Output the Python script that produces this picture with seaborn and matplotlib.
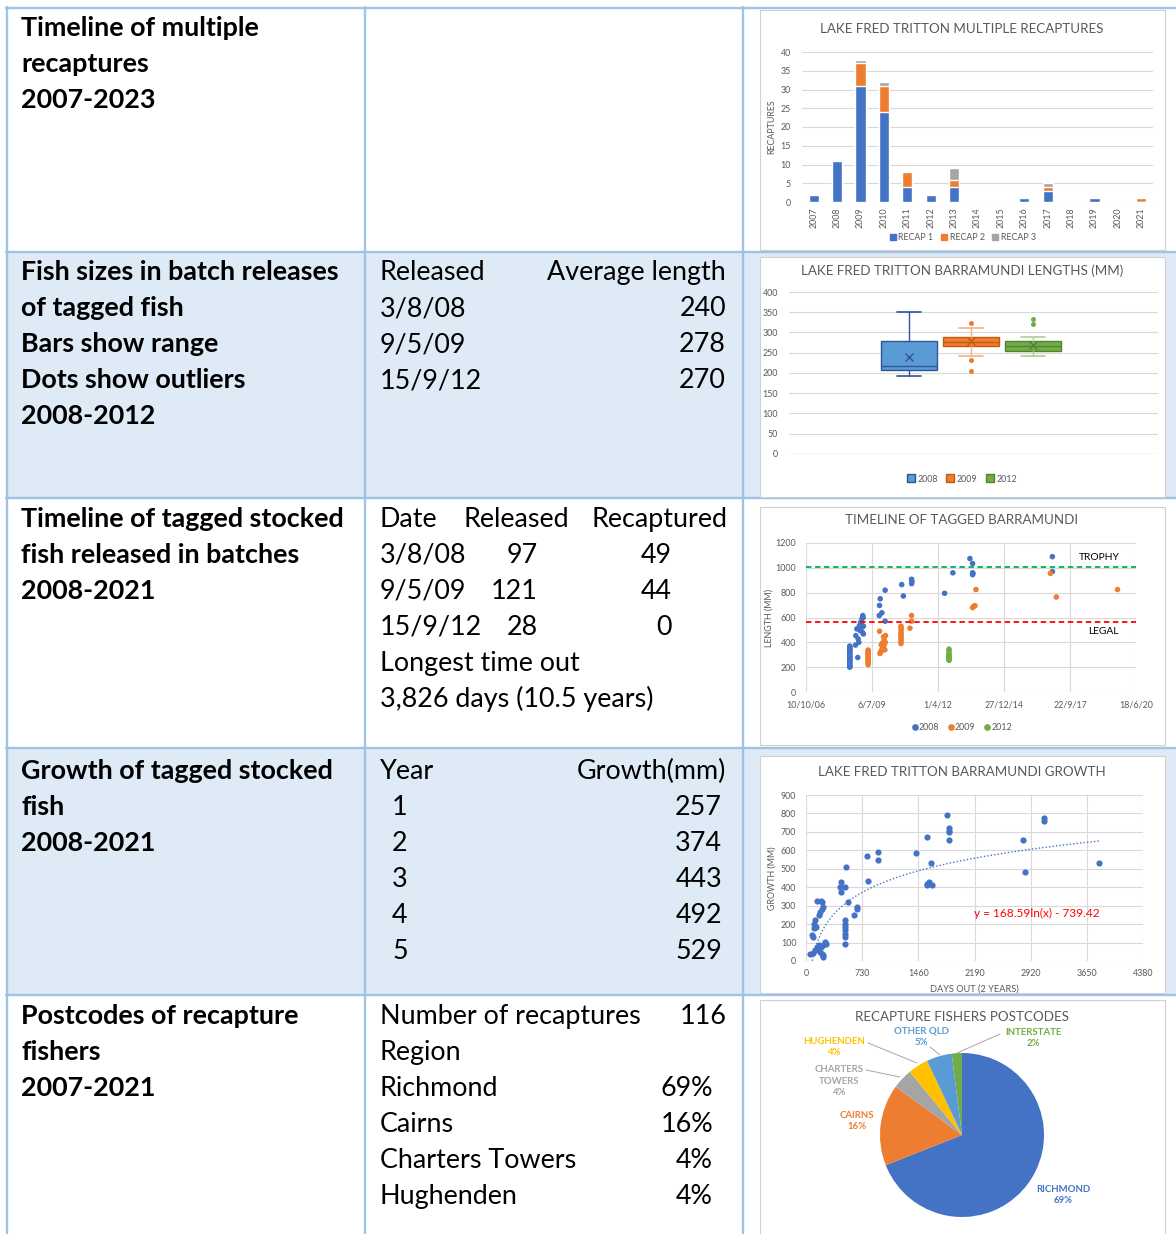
import numpy as np
import pandas as pd
import matplotlib
matplotlib.use('Agg')
import matplotlib.pyplot as plt
import seaborn as sns
from matplotlib.patches import Rectangle
from matplotlib.lines import Line2D

sns.set_theme(style='white')
plt.rcParams['font.family'] = ['Lato', 'DejaVu Sans']

# ---------------- data ----------------
years = ['2007', '2008', '2009', '2010', '2011', '2012', '2013', '2014',
         '2015', '2016', '2017', '2018', '2019', '2020', '2021']
recap1 = [2, 11, 31, 24, 4, 2, 4, 0, 0, 1, 3, 0, 1, 0, 0]
recap2 = [0, 0, 6, 7, 4, 0, 2, 0, 0, 0, 1, 0, 0, 0, 1]
recap3 = [0, 0, 1, 1, 0, 0, 3, 0, 0, 0, 1, 0, 0, 0, 0]

box_years = ['2008', '2009', '2012']
box_low = [192, 243, 243]
box_q1 = [207, 266, 254]
box_median = [218, 276, 267]
box_q3 = [278, 290, 278]
box_high = [350, 311, 290]
box_mean = [240, 278, 270]
box_outliers = [[], [323, 233, 206], [320, 334]]

# timeline: Excel date serials and lengths (mm)
t2008_serial = [39663] * 24 + [39784, 39750, 39755, 39770, 39790, 39810, 39830, 39860, 39870,
                               39820, 39850, 39865, 39845, 39855, 39800, 39840, 39870,
                               40114, 40125, 40199, 40110, 40150, 40199, 40450, 40475,
                               40600, 40600, 40605, 41100, 41225, 41484, 41524, 41524,
                               41524, 41530, 42733, 42733]
t2008_length = [200, 205, 212, 220, 228, 235, 243, 250, 258, 265, 272, 280, 288, 295, 303,
                310, 318, 325, 333, 340, 348, 355, 362, 370,
                278, 378, 454, 508, 427, 535, 562, 616, 467,
                495, 590, 600, 520, 480, 400, 560, 530,
                697, 751, 820, 616, 638, 570, 865, 773,
                908, 873, 890, 795, 960, 1075, 1035, 960,
                945, 955, 1090, 970]
t2009_serial = [39942] * 15 + [40114, 40120, 40130, 40140, 40150, 40160, 40170, 40180, 40190,
                               40200, 40185, 40175, 40205, 40140, 40160, 40195,
                               40440, 40440, 40440, 40440, 40440, 40440, 40440, 40440, 40440,
                               40440, 40575, 40600, 40600, 41524, 41540, 41560, 41575,
                               42703, 42793, 43720]
t2009_length = [220, 230, 240, 250, 258, 266, 275, 283, 290, 298, 306, 314, 322, 330, 338,
                489, 310, 320, 330, 340, 350, 360, 375, 390,
                400, 420, 445, 455, 380, 395, 340,
                390, 405, 420, 435, 450, 465, 480, 500, 515,
                530, 514, 616, 570, 680, 690, 695, 825,
                955, 765, 825]
t2012_serial = [41167] * 10
t2012_length = [255, 262, 270, 278, 285, 292, 300, 310, 330, 345]
timeline_ticks = ['10/10/06', '6/7/09', '1/4/12', '27/12/14', '22/9/17', '18/6/20']
legal_mm = 560
trophy_mm = 1005

# growth
growth_days = [52, 87, 117, 74, 95, 108, 121, 130, 104, 147, 173, 182, 204, 217, 195, 204,
               160, 182, 204, 225, 217, 173, 195, 225, 247, 260, 139,
               442, 455, 455, 507, 520, 512, 512, 512, 512, 512, 512, 512,
               551, 625, 659, 659, 789, 802, 932, 932, 1431, 1570, 1579, 1579, 1605,
               1640, 1622, 1835, 1861, 1861, 1861, 1861, 2815, 2850, 3097, 3097, 3804]
growth_mm = [36, 45, 58, 139, 130, 203, 221, 185, 179, 326, 248, 266, 284, 293, 326, 321,
             67, 49, 40, 31, 24, 85, 76, 85, 103, 94, 76,
             402, 375, 429, 402, 511, 221, 203, 185, 167, 148, 130, 94,
             321, 252, 293, 281, 570, 436, 589, 547, 583, 675, 420, 411, 426,
             411, 529, 791, 719, 704, 697, 657, 657, 480, 777, 759, 534]
trend_a, trend_b = 168.59, -739.42

pie_labels = ['RICHMOND', 'CAIRNS', 'CHARTERS\nTOWERS', 'HUGHENDEN', 'OTHER QLD', 'INTERSTATE']
pie_values = [69, 16, 4, 4, 5, 2]

# ---------------- styling ----------------
C_BLUE = '#4472C4'
C_ORANGE = '#ED7D31'
C_GRAY = '#A5A5A5'
C_YELLOW = '#FFC000'
C_LBLUE = '#5B9BD5'
C_GREEN = '#70AD47'
TXT = '#595959'
GRID = '#D9D9D9'
BORDER = '#9DC3E6'
ROWFILL = '#DEEAF6'
TICK = 6.4
TITLE = 9.6

W, H = 1176, 1234
fig = plt.figure(figsize=(W / 100, H / 100), dpi=100)
bg = fig.add_axes([0, 0, 1, 1])
bg.set_xlim(0, W)
bg.set_ylim(H, 0)
bg.axis('off')


def rect_axes(x0, y0, x1, y1):
    return fig.add_axes([x0 / W, 1 - y1 / H, (x1 - x0) / W, (y1 - y0) / H])


def fig_anchor(x, y):
    return (x / W, 1 - y / H)


# table background
row_edges = [8, 252, 498, 748, 995, 1234]
for i in range(5):
    fc = ROWFILL if i in (1, 3) else 'white'
    bg.add_patch(Rectangle((7, row_edges[i]), W - 7, row_edges[i + 1] - row_edges[i],
                           facecolor=fc, edgecolor='none', zorder=0))
for y in row_edges[:-1]:
    bg.plot([6, W], [y, y], color=BORDER, lw=1.7, zorder=1)
for x in (7, 365, 743):
    bg.plot([x, x], [7, H], color=BORDER, lw=1.7, zorder=1)

# chart frames
frames = [(10, 250), (257, 497), (507, 745), (756, 993), (1000, 1240)]
for y0, y1 in frames:
    bg.add_patch(Rectangle((760, y0), 405, y1 - y0, facecolor='white',
                           edgecolor='#D0D0D0', lw=0.8, zorder=2))

# left column text
FS = 19.4
left_texts = [
    (36, ['Timeline of multiple', 'recaptures', '2007-2023']),
    (280, ['Fish sizes in batch releases', 'of tagged fish', 'Bars show range',
           'Dots show outliers', '2008-2012']),
    (527, ['Timeline of tagged stocked', 'fish released in batches', '2008-2021']),
    (779, ['Growth of tagged stocked', 'fish', '2008-2021']),
    (1024, ['Postcodes of recapture', 'fishers', '2007-2021']),
]
for y0, lines in left_texts:
    for k, s in enumerate(lines):
        bg.text(21, y0 + 36 * k, s, fontsize=FS, fontweight='bold', color='black',
                va='baseline', ha='left', zorder=3)


def mid(x, y, s, ha='left'):
    bg.text(x, y, s, fontsize=FS, color='black', va='baseline', ha=ha, zorder=3)


# row 2 middle
for k, (a, b) in enumerate(zip(['Released', '3/8/08', '9/5/09', '15/9/12'],
                               ['Average length', '240', '278', '270'])):
    mid(380, 280 + 36 * k, a)
    mid(726, 280 + 36 * k, b, 'right')
# row 3 middle
mid(380, 527, 'Date')
mid(463, 527, 'Released')
mid(727, 527, 'Recaptured', 'right')
for k, (a, b, c) in enumerate(zip(['3/8/08', '9/5/09', '15/9/12'], ['97', '121', '28'],
                                  ['49', '44', '0'])):
    mid(380, 563 + 36 * k, a)
    mid(538, 563 + 36 * k, b, 'right')
    mid(672, 563 + 36 * k, c, 'right')
mid(380, 671, 'Longest time out')
mid(380, 707, '3,826 days (10.5 years)')
# row 4 middle
mid(380, 779, 'Year')
mid(726, 779, 'Growth(mm)', 'right')
for k, (a, b) in enumerate(zip(['1', '2', '3', '4', '5'], ['257', '374', '443', '492', '529'])):
    mid(400, 815 + 36 * k, a, 'center')
    mid(722, 815 + 36 * k, b, 'right')
# row 5 middle
mid(380, 1024, 'Number of recaptures')
mid(727, 1024, '116', 'right')
mid(380, 1060, 'Region')
for k, (a, b) in enumerate(zip(['Richmond', 'Cairns', 'Charters Towers', 'Hughenden'],
                               ['69%', '16%', '4%', '4%'])):
    mid(380, 1096 + 36 * k, a)
    mid(713, 1096 + 36 * k, b, 'right')


def style_axes(ax):
    for sp in ax.spines.values():
        sp.set_visible(False)
    ax.set_facecolor('none')
    ax.tick_params(axis='both', length=0, labelsize=TICK, labelcolor=TXT, pad=3)
    ax.set_xlabel('')
    ax.set_ylabel('')
    ax.set_axisbelow(True)


def title(x, y, s):
    bg.text(x, y, s, fontsize=TITLE, color=TXT, ha='center', va='center', zorder=3)


# ---------------- chart 1: stacked bars ----------------
ax1 = rect_axes(802, 52, 1153, 202)
df1 = pd.DataFrame({'year': years, 'r1': recap1, 'r2': recap2, 'r3': recap3})
df1['r12'] = df1['r1'] + df1['r2']
df1['r123'] = df1['r12'] + df1['r3']
for col, c in (('r123', C_GRAY), ('r12', C_ORANGE), ('r1', C_BLUE)):
    sns.barplot(data=df1, x='year', y=col, color=c, width=0.43, saturation=1,
                errorbar=None, ax=ax1, zorder=2)
ax1.set_xlim(-0.5, len(years) - 0.5)
ax1.set_ylim(0, 40)
ax1.set_yticks(range(0, 41, 5))
ax1.yaxis.grid(True, color=GRID, lw=0.8)
style_axes(ax1)
ax1.tick_params(axis='x', rotation=90, pad=4)
ax1.tick_params(axis='y', pad=8)
title(962, 29, 'LAKE FRED TRITTON MULTIPLE RECAPTURES')
bg.text(772, 127, 'RECAPTURES', rotation=90, fontsize=TICK, color=TXT, ha='center', va='center', zorder=3)
h1 = [Line2D([], [], marker='s', ls='none', color=c, markersize=4.5) for c in (C_BLUE, C_ORANGE, C_GRAY)]
ax1.legend(h1, ['RECAP 1', 'RECAP 2', 'RECAP 3'], loc='center', bbox_to_anchor=fig_anchor(963, 238),
           bbox_transform=fig.transFigure, ncol=3, frameon=False, fontsize=TICK, labelcolor=TXT,
           handlelength=0.6, handletextpad=0.3, columnspacing=0.9)

# ---------------- chart 2: box plot ----------------
ax2 = rect_axes(789, 292, 1158, 454)
box_face = [C_LBLUE, C_ORANGE, C_GREEN]
box_edge = ['#2F5597', '#C55A11', '#548235']
box_whisk = ['#2F5597', '#F4B183', '#A9D18E']
box_pos = [-1, 0, 1]
for i in range(3):
    st = dict(label=box_years[i], whislo=box_low[i], q1=box_q1[i], med=box_median[i],
              q3=box_q3[i], whishi=box_high[i], mean=box_mean[i],
              fliers=np.array(box_outliers[i], dtype=float))
    ax2.bxp([st], positions=[box_pos[i]], widths=0.9, capwidths=0.38, patch_artist=True,
            showmeans=True, manage_ticks=False,
            boxprops=dict(facecolor=box_face[i], edgecolor=box_edge[i], lw=1.0),
            medianprops=dict(color=box_edge[i], lw=1.0),
            whiskerprops=dict(color=box_whisk[i], lw=1.0),
            capprops=dict(color=box_whisk[i], lw=1.2),
            meanprops=dict(marker='x', markeredgecolor=box_edge[i], markersize=6, mew=1.0),
            flierprops=dict(marker='o', markerfacecolor=box_face[i], markeredgecolor='none',
                            markersize=3.6))
ax2.set_xlim(-2.94, 3.02)
ax2.set_ylim(0, 400)
ax2.set_yticks(range(0, 401, 50))
ax2.set_xticks([])
ax2.yaxis.grid(True, color=GRID, lw=0.8)
style_axes(ax2)
ax2.axhline(0, color=GRID, lw=1.0)
ax2.tick_params(axis='y', pad=8)
title(962, 271, 'LAKE FRED TRITTON BARRAMUNDI LENGTHS (MM)')
h2 = [Line2D([], [], marker='s', ls='none', markerfacecolor=f, markeredgecolor=e, markersize=6)
      for f, e in zip(box_face, box_edge)]
ax2.legend(h2, box_years, loc='center', bbox_to_anchor=fig_anchor(962, 479),
           bbox_transform=fig.transFigure, ncol=3, frameon=False, fontsize=TICK, labelcolor=TXT,
           handlelength=0.8, handletextpad=0.35, columnspacing=1.0)

# ---------------- chart 3: timeline scatter ----------------
ax3 = rect_axes(806, 543, 1136, 692)
df3 = pd.DataFrame({
    'serial': t2008_serial + t2009_serial + t2012_serial,
    'length': t2008_length + t2009_length + t2012_length,
    'batch': ['2008'] * len(t2008_serial) + ['2009'] * len(t2009_serial) + ['2012'] * len(t2012_serial),
})
sns.scatterplot(data=df3, x='serial', y='length', hue='batch',
                palette={'2008': C_BLUE, '2009': C_ORANGE, '2012': C_GREEN},
                s=16, linewidth=0, ax=ax3, legend=False, zorder=3)
ax3.set_xlim(39000, 44000)
ax3.set_xticks(range(39000, 44001, 1000))
ax3.set_xticklabels(timeline_ticks)
ax3.set_ylim(0, 1200)
ax3.set_yticks(range(0, 1201, 200))
ax3.grid(True, color=GRID, lw=0.8)
style_axes(ax3)
ax3.axhline(trophy_mm, color='#00B050', lw=1.3, ls=(0, (3, 2)), zorder=4)
ax3.axhline(legal_mm, color='#FF0000', lw=1.3, ls=(0, (3, 2)), zorder=4)
ax3.text(43450, 1085, 'TROPHY', fontsize=7.4, color='black', ha='center', va='center')
ax3.text(43510, 485, 'LEGAL', fontsize=7.4, color='black', ha='center', va='center')
ax3.tick_params(axis='y', pad=7)
ax3.tick_params(axis='x', pad=6)
title(962, 520, 'TIMELINE OF TAGGED BARRAMUNDI')
bg.text(769, 618, 'LENGTH (MM)', rotation=90, fontsize=TICK, color=TXT, ha='center', va='center', zorder=3)
h3 = [Line2D([], [], marker='o', ls='none', color=c, markersize=3.8) for c in (C_BLUE, C_ORANGE, C_GREEN)]
ax3.legend(h3, ['2008', '2009', '2012'], loc='center', bbox_to_anchor=fig_anchor(962, 728),
           bbox_transform=fig.transFigure, ncol=3, frameon=False, fontsize=TICK, labelcolor=TXT,
           handlelength=0.5, handletextpad=0.25, columnspacing=1.0)

# ---------------- chart 4: growth scatter ----------------
ax4 = rect_axes(806, 795, 1143, 961)
df4 = pd.DataFrame({'days': growth_days, 'growth': growth_mm})
sns.scatterplot(data=df4, x='days', y='growth', color=C_BLUE, s=20, linewidth=0, ax=ax4, zorder=3)
tx = np.linspace(min(growth_days), max(growth_days), 400)
ty = trend_a * np.log(tx) + trend_b
ax4.plot(tx, ty, color=C_BLUE, lw=1.0, ls=(0, (1, 1.5)), zorder=2)
ax4.set_xlim(0, 4380)
ax4.set_xticks(range(0, 4381, 730))
ax4.set_ylim(0, 900)
ax4.set_yticks(range(0, 901, 100))
ax4.grid(True, color=GRID, lw=0.8)
style_axes(ax4)
ax4.tick_params(axis='y', pad=7)
ax4.tick_params(axis='x', pad=6)
ax4.text(3005, 255, 'y = 168.59ln(x) - 739.42', color='#FF0000', fontsize=8.6, ha='center', va='center')
title(962, 772, 'LAKE FRED TRITTON BARRAMUNDI GROWTH')
bg.text(772, 878, 'GROWTH (MM)', rotation=90, fontsize=TICK, color=TXT, ha='center', va='center', zorder=3)
bg.text(974, 989, 'DAYS OUT (2 YEARS)', fontsize=TICK + 0.3, color=TXT, ha='center', va='center', zorder=3)

# ---------------- chart 5: pie ----------------
ax5 = rect_axes(880, 1053, 1044, 1217)
pie_colors = [C_BLUE, C_ORANGE, C_GRAY, C_YELLOW, C_LBLUE, C_GREEN]
ax5.pie(pie_values, colors=pie_colors, startangle=90, counterclock=False, radius=1,
        wedgeprops=dict(linewidth=0))
ax5.set_xlim(-1, 1)
ax5.set_ylim(-1, 1)
ax5.set_aspect('equal')
ax5.axis('off')
title(962, 1017, 'RECAPTURE FISHERS POSTCODES')
lab_pos = [(1063, 1195), (857, 1121), (839, 1081), (834, 1047), (921, 1037), (1033, 1038)]
for (x, y), lab, v, c in zip(lab_pos, pie_labels, pie_values, pie_colors):
    bg.text(x, y, f'{lab}\n{v}%', fontsize=6.9, fontweight='bold', color=c, ha='center',
            va='center', linespacing=1.4, zorder=3)
for (xa, ya, xb, yb) in [(868, 1043, 917, 1063), (866, 1070, 900, 1077),
                         (930, 1047, 940, 1055), (1000, 1034, 957, 1053)]:
    bg.plot([xa, xb], [ya, yb], color='#A6A6A6', lw=0.7, zorder=3)

fig.savefig('out.png', dpi=100)
